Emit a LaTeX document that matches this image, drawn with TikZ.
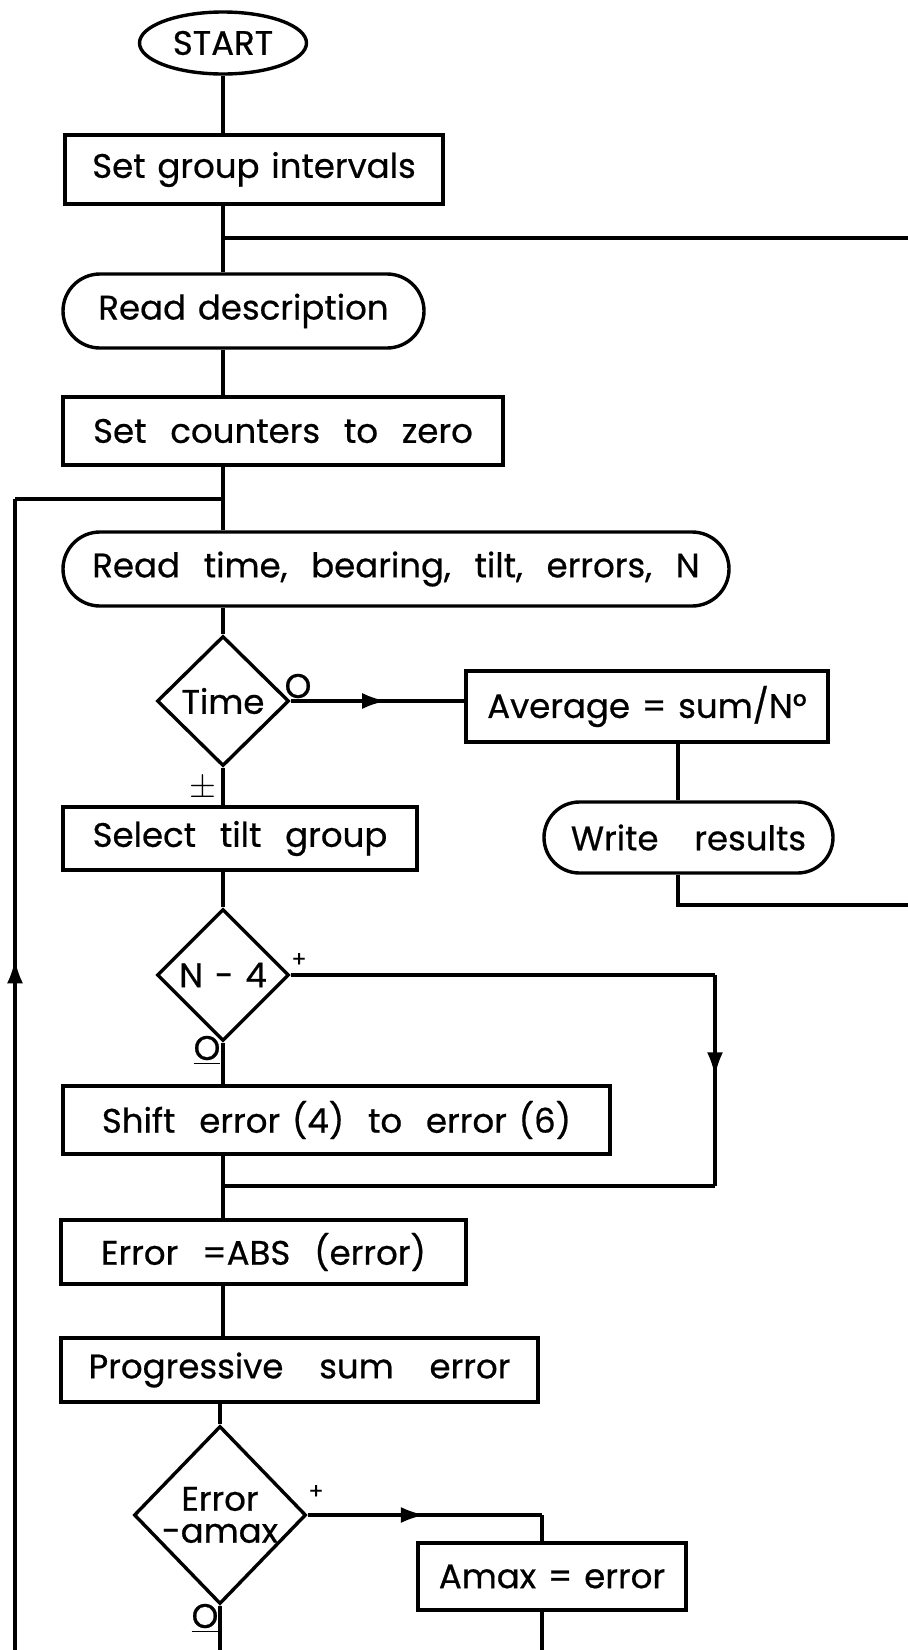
\documentclass[tikz,border=0pt]{standalone}
\usepackage{fontspec}
\setmainfont{Poppins}[WordSpace=1.3, FakeBold=0.6]
\usetikzlibrary{shapes.geometric,shapes.misc,arrows.meta,decorations.markings}
\newcommand{\wsp}{\hspace*{6pt}}

\begin{document}
\begin{tikzpicture}[x=0.5pt, y=-0.5pt,
		line width=1.7pt,
		font=\fontsize{17}{19}\selectfont,
		box/.style={
			draw, rectangle, align=center, inner sep=0pt
		},
		term/.style={
			draw, rounded rectangle, align=center, inner sep=0pt
		},
		test/.style={
			draw, diamond, aspect=1, align=center, inner sep=0pt
		},
		lbl/.style={inner sep=0pt},
		arrowmark/.style={
			postaction={decorate},
			decoration={markings, mark=at position #1 with {\arrow{Latex[length=12pt,width=8pt]}}}
		}
		]
		\useasboundingbox (0,0) rectangle (908,1650);
		
		% main column
		\node[draw, ellipse, inner sep=0pt, minimum width=83.5pt, minimum height=31pt] (start) at (223,43) {START};
		\node[box, minimum width=189pt, minimum height=34.5pt] (grp) at (254,169.5) {Set group intervals};
		\node[term, minimum width=180.5pt, minimum height=37pt] (desc) at (243.5,311) {Read description};
		\node[box, minimum width=220pt, minimum height=34pt] (zero) at (283,431) {Set \wsp counters \wsp to \wsp zero};
		\node[term, minimum width=333pt, minimum height=37pt] (rd) at (396,569) {Read \wsp time, \wsp bearing, \wsp tilt, \wsp errors, \wsp N};
		\node[test, minimum width=66pt, minimum height=65pt] (time) at (223,701) {Time};
		\node[box, minimum width=177pt, minimum height=31.5pt] (sel) at (240,838.5) {Select \wsp tilt \wsp group};
		\node[test, minimum width=66pt, minimum height=66pt] (nfour) at (223,975) {N - 4};
		\node[box, minimum width=273.5pt, minimum height=34pt] (shift) at (336.5,1120) {Shift \wsp error (4) \wsp to \wsp error (6)};
		\node[box, minimum width=202.5pt, minimum height=32pt] (abs) at (263.5,1252) {Error \wsp =ABS \wsp (error)};
		\node[box, minimum width=238.5pt, minimum height=32pt] (prog) at (299.5,1370) {Progressive \wsp\wsp sum \wsp\wsp error};
		\node[test, minimum width=86pt, minimum height=89pt] (amx) at (220,1515) {Error\\[-3pt]-amax};
		
		% right hand side
		\node[box, minimum width=181pt, minimum height=35.5pt] (avg) at (647,706.5) {Average = sum/N°};
		\node[term, minimum width=144.5pt, minimum height=35.5pt] (wr) at (688.5,837.5) {Write \wsp\wsp results};
		\node[box, minimum width=134pt, minimum height=33.5pt] (amaxbox) at (552,1576.5) {Amax = error};
		
		% branch labels
		\node[lbl] (lt) at (298,686) {O};
		\node[lbl] (ltb) at (203,789) {$\pm$};
		\node[lbl, font=\fontsize{11}{12}\selectfont] (ln) at (299,960) {+};
		\node[lbl] (lnb) at (207,1050) {\underline{O}};
		\node[lbl, font=\fontsize{11}{12}\selectfont] (la) at (316,1492) {+};
		\node[lbl] (lab) at (205,1618) {\underline{O}};
		
		% free ends and corners
		\coordinate (j1) at (223,238);
		\coordinate (rt1) at (908,238);
		\coordinate (j2) at (223,499);
		\coordinate (lf) at (15,499);
		\coordinate (lb) at (15,1650);
		\coordinate (wrd) at (678,905);
		\coordinate (rt2) at (908,905);
		\coordinate (nr) at (715,975);
		\coordinate (nd) at (715,1186);
		\coordinate (j3) at (223,1186);
		\coordinate (ar) at (542,1507);
		\coordinate (ab1) at (220,1650);
		\coordinate (ab2) at (542,1650);
		
		% connectors
		\draw (start.south) -- (start.south |- grp.north);
		\draw (start.south |- grp.south) -- (j1) -- (start.south |- desc.north);
		\draw (j1) -- (rt1);
		\draw (start.south |- desc.south) -- (start.south |- zero.north);
		\draw (start.south |- zero.south) -- (j2) -- (start.south |- rd.north);
		\draw (start.south |- rd.south) -- (time.north);
		\draw[arrowmark=0.55] (time.east) -- (time.east -| avg.west);
		\draw (wrd |- avg.south) -- (wrd |- wr.north);
		\draw (wrd |- wr.south) -- (wrd) -- (rt2);
		\draw (time.south) -- (time.south |- sel.north);
		\draw (time.south |- sel.south) -- (nfour.north);
		\draw (nfour.east) -- (nr);
		\draw[arrowmark=0.48] (nr) -- (nd);
		\draw (nd) -- (j3);
		\draw (nfour.south) -- (nfour.south |- shift.north);
		\draw (nfour.south |- shift.south) -- (j3) -- (j3 |- abs.north);
		\draw (j3 |- abs.south) -- (j3 |- prog.north);
		\draw (amx.north |- prog.south) -- (amx.north);
		\draw[arrowmark=0.5] (amx.east) -- (amx.east -| ar);
		\draw (amx.east -| ar) -- (ar |- amaxbox.north);
		\draw (ar |- amaxbox.south) -- (ab2);
		\draw (amx.south) -- (ab1);
		\draw[arrowmark=0.6] (lb) -- (lf);
		\draw (lf) -- (j2);
	\end{tikzpicture}
\end{document}
